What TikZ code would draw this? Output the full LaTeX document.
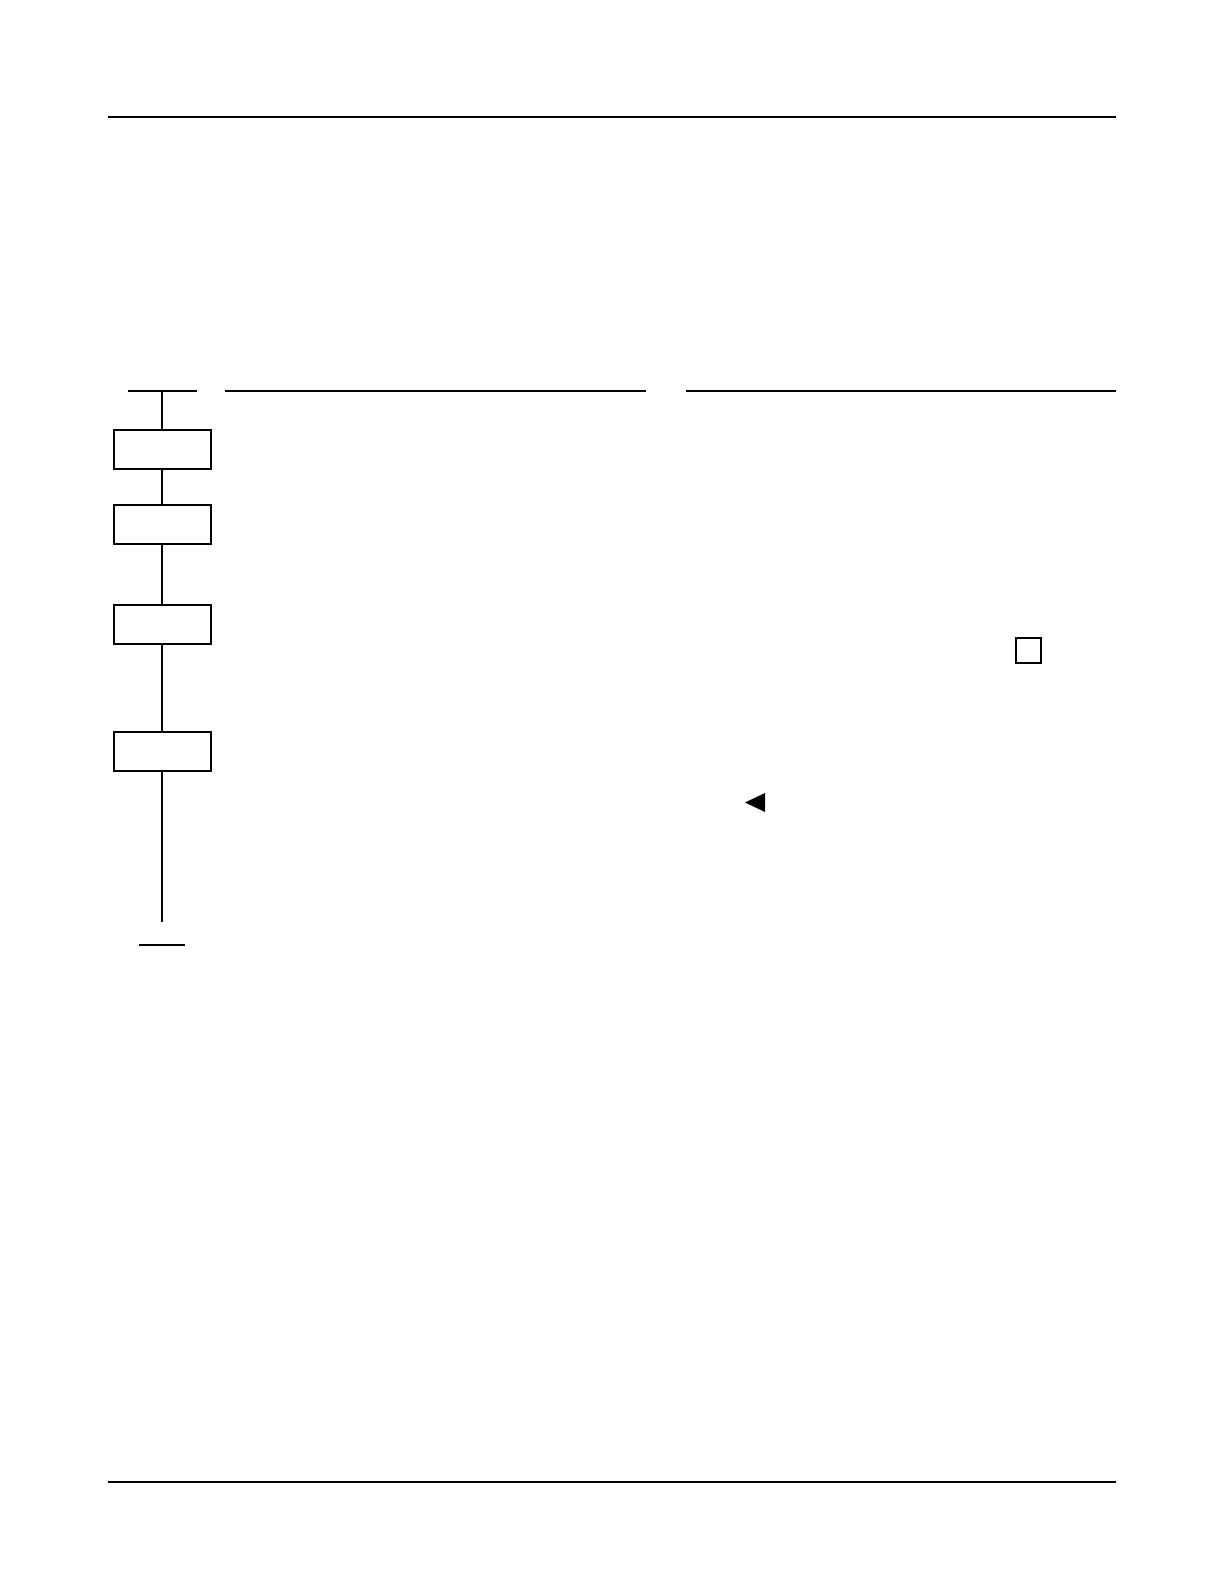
\documentclass[tikz,border=0pt]{standalone}
\begin{document}
\begin{tikzpicture}[x=0.5pt,y=-0.5pt,
  stepbox/.style={draw,line width=1pt,minimum width=48.5pt,minimum height=19.5pt,inner sep=0pt,anchor=north},
  rule/.style={line width=0.65pt},
  bar/.style={line width=1pt},
  wire/.style={line width=1pt}]
\useasboundingbox (0,0) rectangle (1224,1584);
% page rules
\draw[rule] (108,117) -- (1116,117);
\draw[rule] (108,1482) -- (1116,1482);
% header bars
\draw[bar] (128,391) -- (197,391);
\draw[bar] (225,391) -- (646,391);
\draw[bar] (686,391) -- (1116,391);
% steps
\coordinate (top) at (162,391);
\node[stepbox] (b1) at (162,429) {};
\node[stepbox] (b2) at (162,504) {};
\node[stepbox] (b3) at (162,604) {};
\node[stepbox] (b4) at (162,731) {};
\coordinate (end) at (162,922);
\draw[wire] (top) -- (b1.north);
\draw[wire] (b1.south) -- (b2.north);
\draw[wire] (b2.south) -- (b3.north);
\draw[wire] (b3.south) -- (b4.north);
\draw[wire] (b4.south) -- (end);
\draw[bar] (139,945) -- (185,945);
% small square
\node[draw,line width=0.8pt,minimum size=12.5pt,inner sep=0pt,anchor=north west] (sq) at (1015,637) {};
% triangle
\fill (745,802.5) -- (765,793) -- (765,812) -- cycle;
\end{tikzpicture}
\end{document}
